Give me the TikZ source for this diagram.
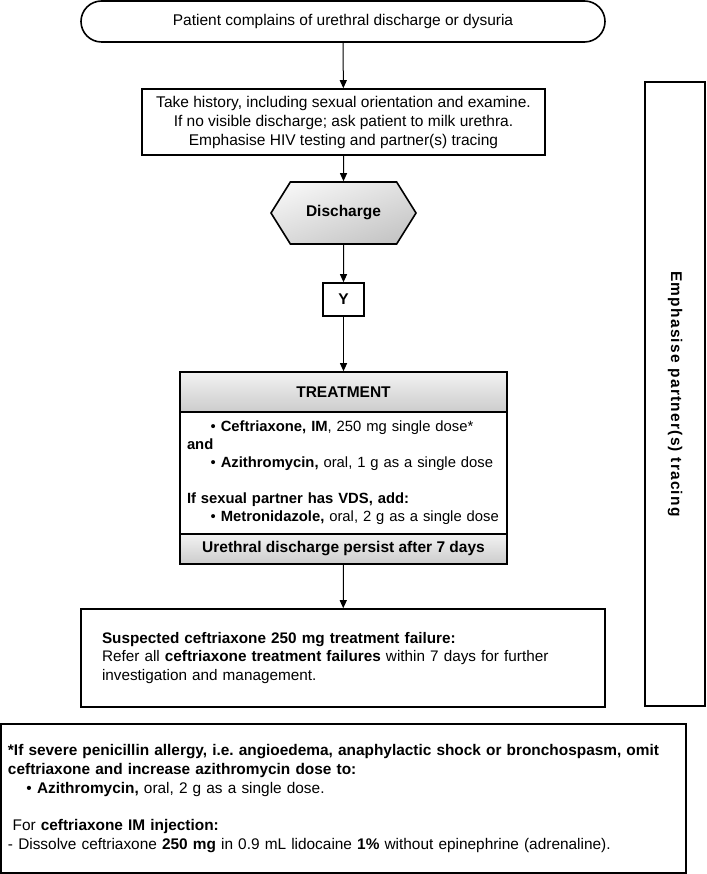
\documentclass[tikz,border=0pt]{standalone}
\usepackage{fontspec}
\setmainfont{Liberation Sans}
\usetikzlibrary{shapes.misc,shapes.symbols,arrows.meta}
\frenchspacing

\begin{document}
\begin{tikzpicture}[x=1pt,y=-1pt,
        block/.style={rectangle,draw=black,line width=1.6pt,inner sep=0pt,align=center,font=\fontsize{15.5}{19}\selectfont},
        start/.style={rounded rectangle,draw=black,line width=1.6pt,inner sep=0pt,font=\fontsize{15.5}{19}\selectfont},
        decide/.style={signal,signal to=east and west,signal pointer angle=116,draw=black,line width=1.6pt,
          top color=gray!8,bottom color=gray!45,shading angle=20,inner sep=0pt,font=\fontsize{15.5}{19}\selectfont\bfseries},
        shadebox/.style={block,top color=gray!10,bottom color=gray!40,font=\fontsize{15.5}{19}\selectfont\bfseries},
        note/.style={block,align=left,font=\fontsize{15.3}{18.7}\selectfont},
        push/.style={draw,-{Triangle[length=8pt,width=7pt]},line width=1pt},
      ]
      \useasboundingbox (0,0) rectangle (706,874);
      \node[start,minimum width=524pt,minimum height=41pt] at (343,21.5) (Complain) {Patient complains of urethral discharge or dysuria};
      \node[block,minimum width=403pt,minimum height=66pt] at (343.5,122) (History) {Take history, including sexual orientation and examine.\\
        If no visible discharge; ask patient to milk urethra.\\
        Emphasise HIV testing and partner(s) tracing};
      \node[decide,minimum width=145pt,minimum height=62pt] at (343.5,213) (Discharge) {Discharge};
      \node[block,minimum width=41pt,minimum height=33pt,font=\fontsize{15.5}{19}\selectfont\bfseries] at (343.5,299.5) (Yes) {Y};
%
      \node[shadebox,minimum width=327pt,minimum height=40pt] at (343.5,392) (Treatment) {TREATMENT};
      \node[note,text width=313pt,inner xsep=7pt,minimum height=122pt,font=\fontsize{14.8}{18}\selectfont] at (343.5,473) (Drugs) {%
        \hspace*{1.6em}\textbullet\ \textbf{Ceftriaxone, IM}, 250 mg single dose*\\
        \textbf{and}\\
        \hspace*{1.6em}\textbullet\ \textbf{Azithromycin,} oral, 1 g as a single dose\\[18pt]
        \textbf{If sexual partner has VDS, add:}\\
        \hspace*{1.6em}\textbullet\ \textbf{Metronidazole,} oral, 2 g as a single dose};
      \node[shadebox,minimum width=327pt,minimum height=30pt] at (343.5,549) (Persist) {Urethral discharge persist after 7 days};
%
      \node[note,text width=482pt,inner xsep=21pt,minimum height=98pt] at (343,658) (Failure) {%
        \textbf{Suspected ceftriaxone 250 mg treatment failure:}\\
        Refer all \textbf{ceftriaxone treatment failures} within 7 days for further\\
        investigation and management.};
%
      \node[block,rotate=-90,minimum width=624pt,minimum height=60pt,font=\fontsize{15.5}{19}\selectfont\bfseries\addfontfeature{LetterSpace=8}] at (675,394) (Tracing) {Emphasise partner(s) tracing};
%
      \node[note,text width=671pt,inner xsep=7pt,minimum height=149pt,font=\fontsize{15.4}{19}\selectfont] at (343.5,798.5) (Allergy) {%
        \textbf{*If severe penicillin allergy, i.e. angioedema, anaphylactic shock or bronchospasm, omit}\\
        \textbf{ceftriaxone and increase azithromycin dose to:}\\
        \hspace*{1.2em}\textbullet\ \textbf{Azithromycin,} oral, 2 g as a single dose.\\[18pt]
        \hspace*{0.3em}For \textbf{ceftriaxone IM injection:}\\
        - Dissolve ceftriaxone \textbf{250 mg} in 0.9 mL lidocaine \textbf{1\%} without epinephrine (adrenaline).};
%
      \path[push] (Complain) -- (History);
      \path[push] (History) -- (Discharge);
      \path[push] (Discharge) -- (Yes);
      \path[push] (Yes) -- (Treatment);
      \path[push] (Persist) -- (Failure);
    \end{tikzpicture}
\end{document}
